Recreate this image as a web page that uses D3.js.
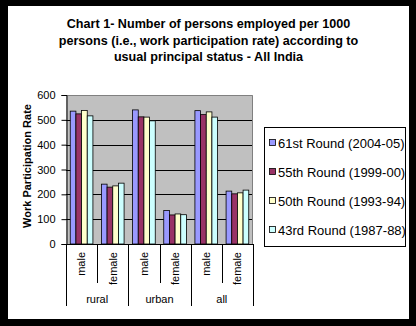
<!DOCTYPE html>
<html><head><meta charset="utf-8">
<script src="https://cdn.jsdelivr.net/npm/d3@7"></script>
<style>html,body{margin:0;padding:0;background:#000;}svg{display:block;}</style>
</head><body>
<script>
const titleLines = ["Chart 1- Number of persons employed per 1000","persons (i.e., work participation rate) according to","usual principal status - All India"];
const categories = ["male","female","male","female","male","female"];
const groups = ["rural","urban","all"];
const seriesNames = ["61st Round (2004-05)","55th Round (1999-00)","50th Round (1993-94)","43rd Round (1987-88)"];
const round61 = [535,241,540,135,537,213];
const round55 = [524,229,512,117,521,202];
const round50 = [538,234,511,121,532,206];
const round43 = [516,245,496,118,511,217];
const seriesValues = [round61, round55, round50, round43];
const seriesColors = ["#9999FF","#993366","#FFFFCC","#CCFFFF"];
const yTicks = [0,100,200,300,400,500,600];
const yTitle = "Work Participation Rate";

const W = 416, H = 326;
const font = "'Liberation Sans', Arial, sans-serif";
const svg = d3.select("body").append("svg").attr("width", W).attr("height", H);
svg.append("rect").attr("width", W).attr("height", H).attr("fill", "#000");
svg.append("rect").attr("x", 8).attr("y", 6).attr("width", 401).attr("height", 313).attr("fill", "#fff");

// title
svg.append("g").selectAll("text").data(titleLines).join("text")
  .attr("x", 208.5).attr("y", (d, i) => 28 + i * 16.6)
  .attr("text-anchor", "middle").attr("font-family", font)
  .attr("font-size", 12.6).attr("font-weight", "bold").attr("fill", "#000")
  .text(d => d);

const plot = {x0: 66, x1: 253, y0: 95, y1: 244};
const x = d3.scaleBand().domain(d3.range(categories.length)).range([plot.x0, plot.x1]).padding(0);
const xs = d3.scaleBand().domain(d3.range(seriesNames.length)).range([0, x.bandwidth()])
  .paddingInner(0).paddingOuter(0.75);
const y = d3.scaleLinear().domain([0, 600]).range([plot.y1, plot.y0]);

// plot background
svg.append("rect").attr("x", plot.x0).attr("y", plot.y0)
  .attr("width", plot.x1 - plot.x0).attr("height", plot.y1 - plot.y0)
  .attr("fill", "#C0C0C0");
// gridlines
svg.append("g").selectAll("line").data(yTicks.filter(t => t > 0 && t < 600)).join("line")
  .attr("x1", plot.x0).attr("x2", plot.x1)
  .attr("y1", d => Math.round(y(d)) + 0.5).attr("y2", d => Math.round(y(d)) + 0.5)
  .attr("stroke", "#000").attr("stroke-width", 1);
// plot border (gray)
svg.append("path")
  .attr("d", `M${plot.x0},${plot.y0 + 0.5}H${plot.x1 - 0.5}V${plot.y1}`)
  .attr("fill", "none").attr("stroke", "#808080").attr("stroke-width", 1);

// bars
const barG = svg.append("g");
seriesValues.forEach((vals, s) => {
  barG.append("g").selectAll("rect").data(vals).join("rect")
    .attr("x", (d, i) => x(i) + xs(s))
    .attr("y", d => y(d))
    .attr("width", xs.bandwidth())
    .attr("height", d => y(0) - y(d))
    .attr("fill", seriesColors[s])
    .attr("stroke", "#000").attr("stroke-width", 0.8);
});

// y axis
const yAxis = d3.axisLeft(y).tickValues(yTicks).tickSize(5).tickPadding(6);
const ya = svg.append("g").attr("transform", `translate(${plot.x0 + 0.5},0)`).call(yAxis);
ya.select(".domain").attr("stroke", "#000");
ya.selectAll(".tick line").attr("stroke", "#000");
ya.selectAll(".tick text").attr("font-family", font).attr("font-size", 11).attr("fill", "#000");

// x axis line
svg.append("line").attr("x1", plot.x0).attr("x2", plot.x1)
  .attr("y1", plot.y1 + 0.5).attr("y2", plot.y1 + 0.5).attr("stroke", "#000");

// category separators
const sepG = svg.append("g");
d3.range(categories.length + 1).forEach(i => {
  const xx = Math.round(i < categories.length ? x(i) : plot.x1) + 0.5;
  const outer = i % 2 === 0;
  sepG.append("line").attr("x1", xx).attr("x2", xx)
    .attr("y1", plot.y1).attr("y2", outer ? 306 : 283)
    .attr("stroke", "#000");
});
// category labels
svg.append("g").selectAll("text").data(categories).join("text")
  .attr("transform", (d, i) => `translate(${x(i) + x.bandwidth() / 2},252) rotate(-90)`)
  .attr("text-anchor", "end").attr("dy", "0.35em")
  .attr("font-family", font).attr("font-size", 11).attr("fill", "#000")
  .text(d => d);
// group labels
svg.append("g").selectAll("text").data(groups).join("text")
  .attr("x", (d, i) => x(i * 2) + x.bandwidth())
  .attr("y", 303)
  .attr("text-anchor", "middle")
  .attr("font-family", font).attr("font-size", 11).attr("fill", "#000")
  .text(d => d);

// y title
svg.append("text")
  .attr("transform", `translate(31,166) rotate(-90)`)
  .attr("text-anchor", "middle")
  .attr("font-family", font).attr("font-size", 11).attr("font-weight", "bold").attr("fill", "#000")
  .text(yTitle);

// legend
const lg = svg.append("g");
lg.append("rect").attr("x", 264.5).attr("y", 127.5).attr("width", 141).attr("height", 119)
  .attr("fill", "#fff").attr("stroke", "#000");
seriesNames.forEach((name, i) => {
  const cy = 143 + i * 29;
  lg.append("rect").attr("x", 269.5).attr("y", cy - 3.5).attr("width", 6).attr("height", 6)
    .attr("fill", seriesColors[i]).attr("stroke", "#000").attr("stroke-width", 0.8);
  lg.append("text").attr("x", 278).attr("y", cy).attr("dy", "0.35em")
    .attr("font-family", font).attr("font-size", 13).attr("fill", "#000")
    .text(name);
});
</script>
</body></html>
